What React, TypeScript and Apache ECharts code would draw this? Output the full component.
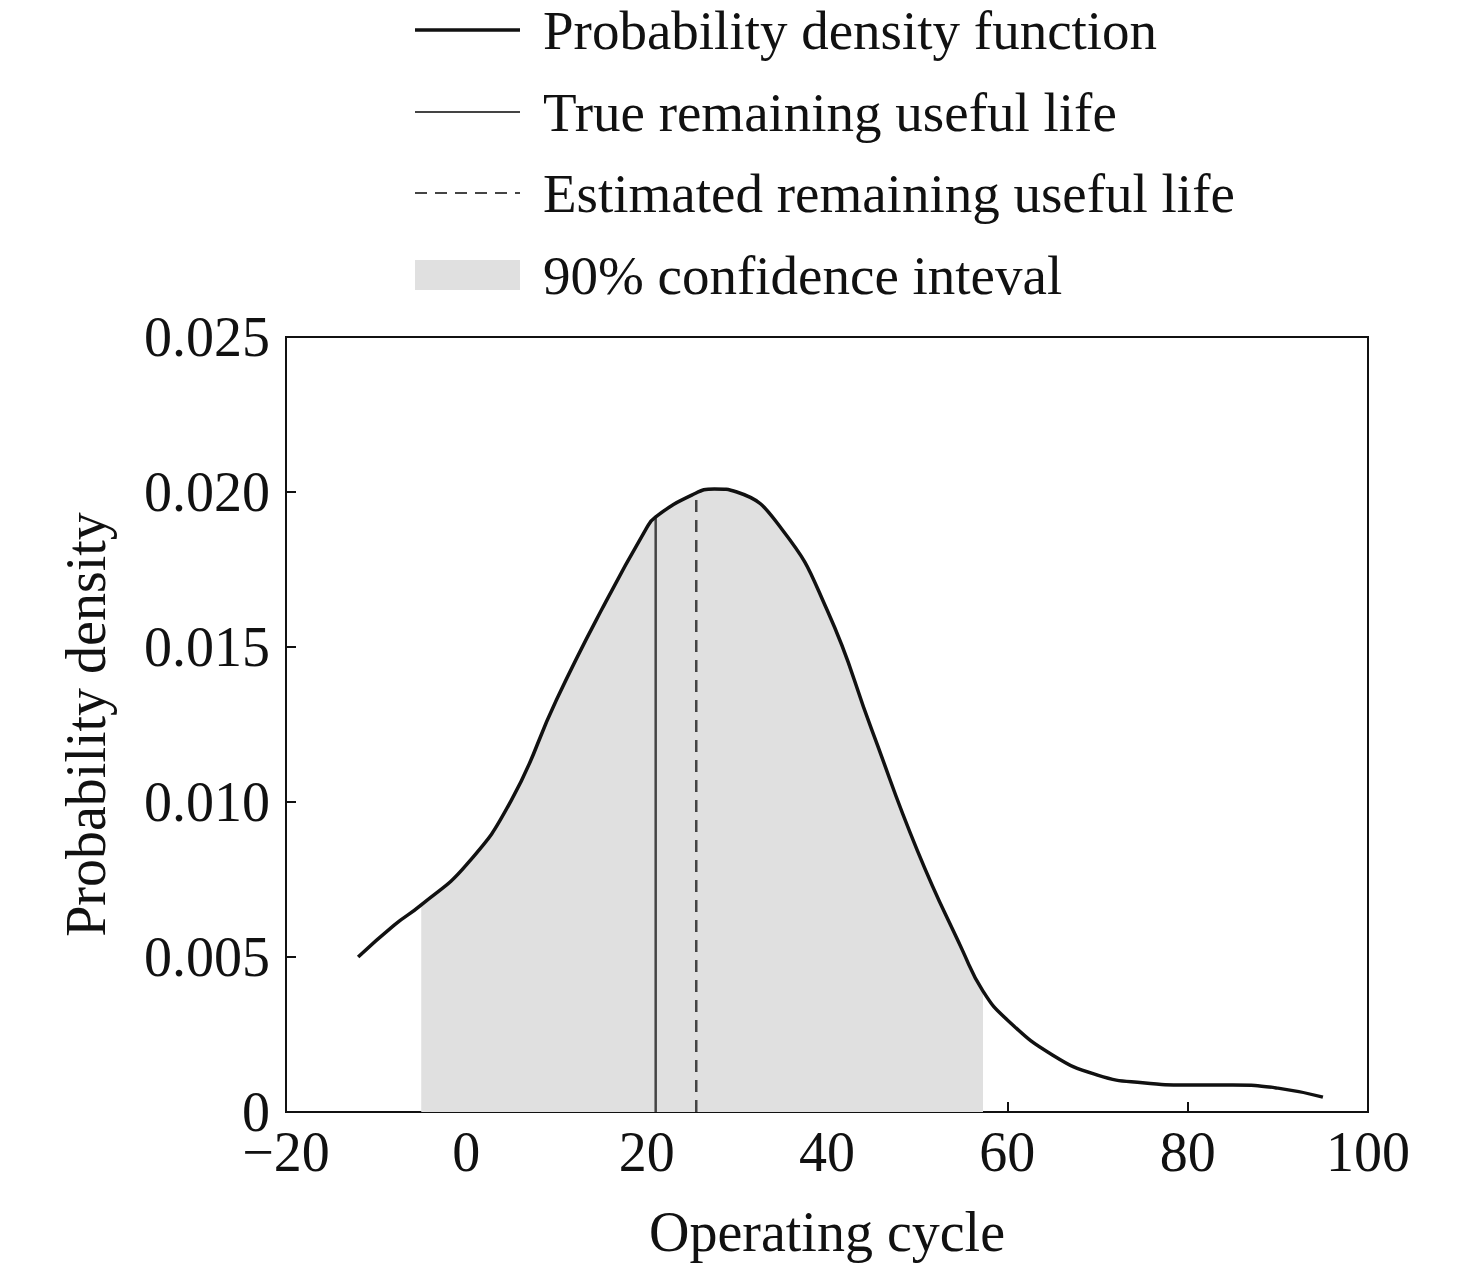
import React, { useEffect, useRef } from "react";
import * as echarts from "echarts";

const pdfX = [-12, -8, -5, 0, 5, 10, 15, 20, 21, 25, 27.5, 30, 35, 40, 45, 50, 55, 57.3, 60, 65, 70, 75, 80, 85, 90, 95];
const pdfY = [0.005, 0.00603, 0.00668, 0.00797, 0.01006, 0.0133, 0.0162, 0.01884, 0.0192, 0.0199, 0.0201, 0.02, 0.0188, 0.0162, 0.0123, 0.00845, 0.00523, 0.0039, 0.00297, 0.00184, 0.00119, 0.00094, 0.00087, 0.00087, 0.00077, 0.00048];
const ciLow = -5;
const ciHigh = 57.3;
const trueRul = [21, 0.0192];
const estRul = [25.5, 0.0199];
const legendNames = ["Probability density function", "True remaining useful life", "Estimated remaining useful life", "90% confidence inteval"];

const FONT = "Liberation Serif, Times New Roman, serif";

export default function App() {
  const ref = useRef<HTMLDivElement>(null);
  useEffect(() => {
    const chart = echarts.init(ref.current!, null, { renderer: "svg" });
    const pdf = pdfX.map((x, i) => [x, pdfY[i]]);
    const fill = pdf.filter((p) => p[0] >= ciLow && p[0] <= ciHigh);
    const legendY = [30, 112, 193, 275];
    const graphic: any[] = [];
    legendY.forEach((y, i) => {
      if (i < 3) {
        graphic.push({
          type: "line",
          shape: { x1: 415, y1: y, x2: 520, y2: y },
          style: { stroke: i === 0 ? "#111" : "#444", lineWidth: i === 0 ? 3.5 : 2, lineDash: i === 2 ? [12, 8] : null },
        });
      } else {
        graphic.push({ type: "rect", shape: { x: 415, y: y - 15, width: 105, height: 30 }, style: { fill: "#e0e0e0" } });
      }
      graphic.push({
        type: "text",
        x: 543,
        y,
        style: { text: legendNames[i], font: `55px ${FONT}`, fill: "#111", textVerticalAlign: "middle" },
      });
    });
    chart.setOption({
      animation: false,
      graphic,
      grid: { left: 286, right: 108, top: 337, bottom: 157, show: true, borderColor: "#111", borderWidth: 2 },
      xAxis: {
        type: "value", min: -20, max: 100, interval: 20,
        name: "Operating cycle", nameLocation: "middle", nameGap: 92,
        nameTextStyle: { fontFamily: FONT, fontSize: 56, color: "#111" },
        axisLine: { show: true, onZero: false, lineStyle: { color: "#111", width: 2 } },
        axisTick: { inside: true, length: 10, lineStyle: { color: "#111", width: 2 } },
        axisLabel: { fontFamily: FONT, fontSize: 56, color: "#111", margin: 12, formatter: (v: number) => String(v).replace("-", "\u2212") },
        splitLine: { show: false },
      },
      yAxis: {
        type: "value", min: 0, max: 0.025, interval: 0.005,
        name: "Probability density", nameLocation: "middle", nameGap: 200,
        nameTextStyle: { fontFamily: FONT, fontSize: 56, color: "#111", verticalAlign: "middle" },
        axisLine: { show: true, onZero: false, lineStyle: { color: "#111", width: 2 } },
        axisTick: { inside: true, length: 10, lineStyle: { color: "#111", width: 2 } },
        axisLabel: { fontFamily: FONT, fontSize: 56, color: "#111", margin: 16, formatter: (v: number) => (v === 0 ? "0" : v.toFixed(3)) },
        splitLine: { show: false },
      },
      series: [
        { type: "line", data: fill, smooth: 0.5, symbol: "none", lineStyle: { width: 0 }, areaStyle: { color: "#e0e0e0", opacity: 1 }, z: 1 },
        { type: "line", data: pdf, smooth: 0.5, symbol: "none", lineStyle: { color: "#111", width: 3.5 }, z: 3 },
        { type: "line", data: [[trueRul[0], 0], trueRul], symbol: "none", lineStyle: { color: "#444", width: 2.5 }, z: 2 },
        { type: "line", data: [[estRul[0], 0], estRul], symbol: "none", lineStyle: { color: "#444", width: 2.5, type: [12, 8] }, z: 2 },
      ],
    });
    return () => chart.dispose();
  }, []);
  return <div ref={ref} style={{ position: "fixed", left: 0, top: 0, width: 1476, height: 1269, background: "#fff" }} />;
}
